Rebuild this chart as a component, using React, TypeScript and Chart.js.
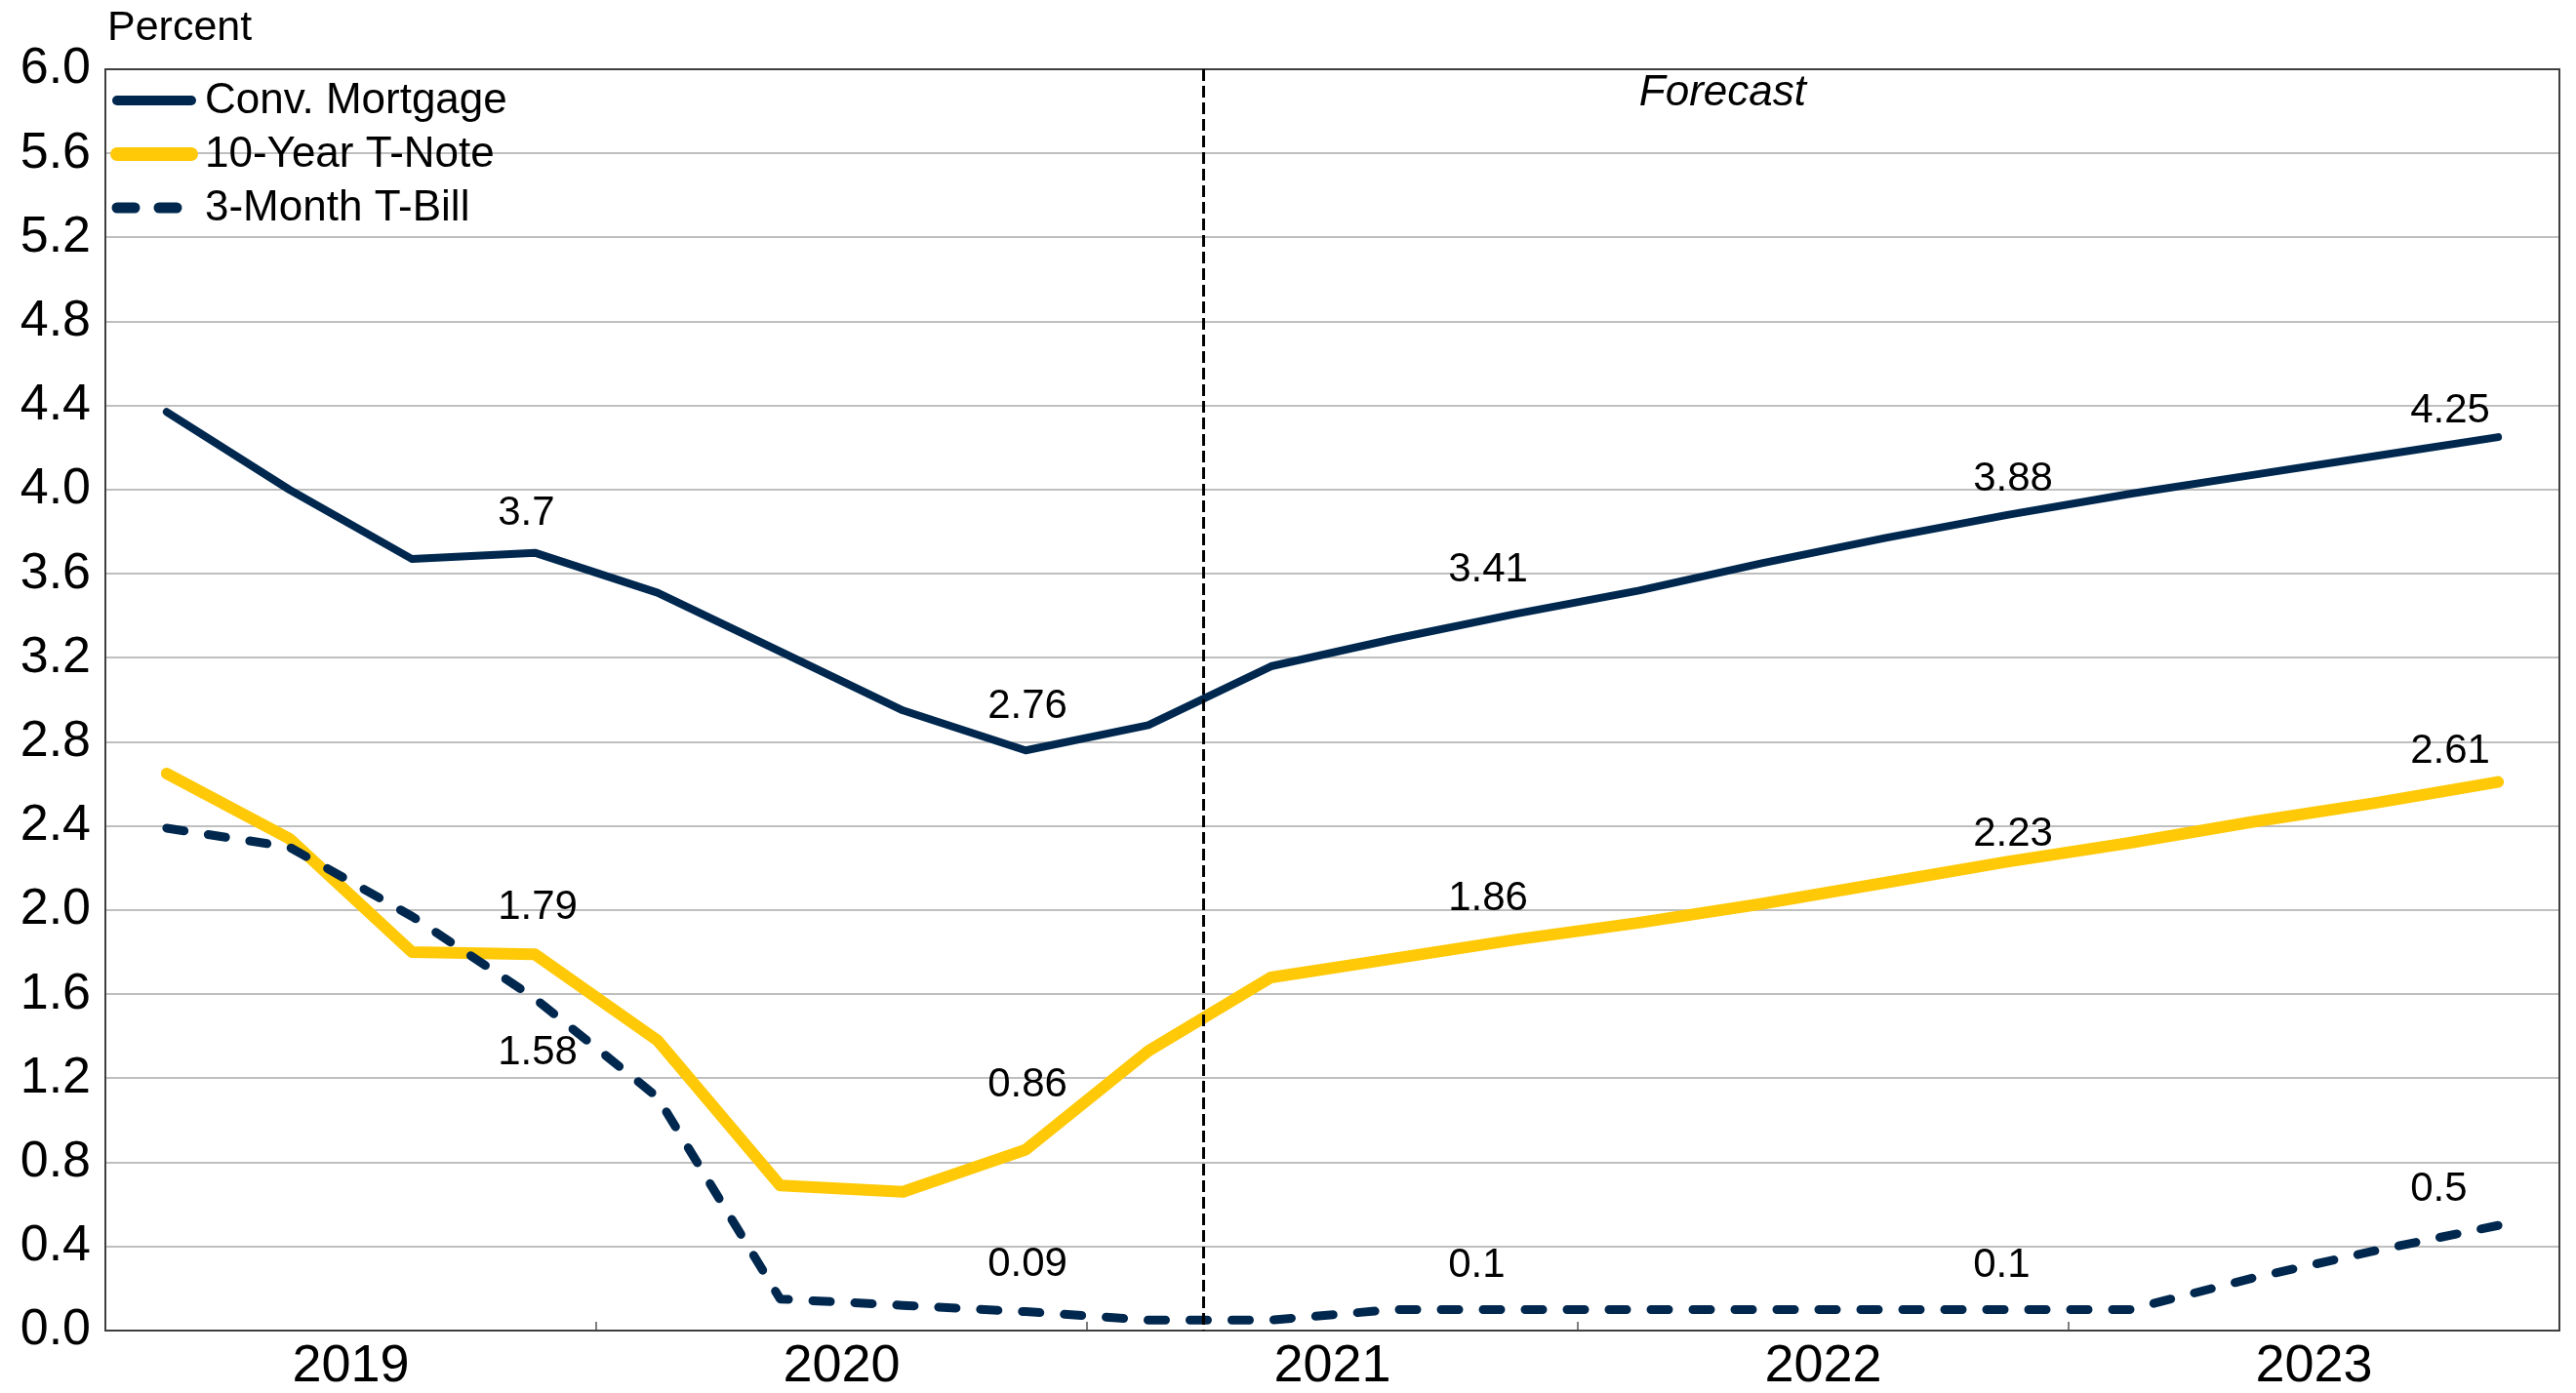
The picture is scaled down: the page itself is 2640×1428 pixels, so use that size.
import React, { useEffect, useRef } from 'react';
import { Chart, registerables } from 'chart.js';

Chart.register(...registerables);

// ---------- data ----------
const QUARTERS = [
  '2019Q1', '2019Q2', '2019Q3', '2019Q4',
  '2020Q1', '2020Q2', '2020Q3', '2020Q4',
  '2021Q1', '2021Q2', '2021Q3', '2021Q4',
  '2022Q1', '2022Q2', '2022Q3', '2022Q4',
  '2023Q1', '2023Q2', '2023Q3', '2023Q4',
];
const YEARS = ['2019', '2020', '2021', '2022', '2023'];

const CONV_MORTGAGE = [4.37, 4.0, 3.67, 3.7, 3.51, 3.23, 2.95, 2.76, 2.88, 3.16, 3.29, 3.41, 3.52, 3.65, 3.77, 3.88, 3.98, 4.07, 4.16, 4.25];
const TEN_YEAR_NOTE = [2.65, 2.34, 1.8, 1.79, 1.38, 0.69, 0.66, 0.86, 1.33, 1.68, 1.77, 1.86, 1.94, 2.03, 2.13, 2.23, 2.32, 2.42, 2.51, 2.61];
const THREE_MONTH_BILL = [2.39, 2.3, 1.97, 1.58, 1.11, 0.15, 0.12, 0.09, 0.05, 0.05, 0.1, 0.1, 0.1, 0.1, 0.1, 0.1, 0.1, 0.25, 0.38, 0.5];

const SERIES_NAMES = ['Conv. Mortgage', '10-Year T-Note', '3-Month T-Bill'];
const LABELLED_QUARTERS = [3, 7, 11, 15, 19]; // Q4 of each year
const FORECAST_START = 8.95; // quarter units from the start of 2019
const FORECAST_TEXT_AT = 13.18; // quarter units
const Y_MIN = 0;
const Y_MAX = 6;
const Y_STEP = 0.4;

// ---------- styles ----------
const NAVY = '#00284F';
const GOLD = '#FFC907';
const FONT = '"Liberation Sans", Arial, sans-serif';
const LABEL_DX = [-38, -39, -70, -35, -90];
const LABEL_DY = [
  [40, 45, 45, 36, 27],
  [48, 66, 42, 28, 31],
  [-56, 48, 45, 45, 37],
];

const toPoints = (vals: number[]) => vals.map((v, i) => ({ x: i + 0.5, y: v }));

const decorPlugin = {
  id: 'decor',
  beforeDatasetsDraw(chart: any) {
    const { ctx, chartArea: a, scales } = chart;
    const x = scales.x;
    ctx.save();
    ctx.strokeStyle = '#7F7F7F';
    ctx.lineWidth = 2;
    for (let k = 1; k < YEARS.length; k++) {
      const px = Math.round(x.getPixelForValue(k * 4));
      ctx.beginPath();
      ctx.moveTo(px, a.bottom);
      ctx.lineTo(px, a.bottom - 9);
      ctx.stroke();
    }
    ctx.strokeStyle = '#3F3F3F';
    ctx.lineWidth = 2;
    ctx.strokeRect(a.left, a.top, a.right - a.left, a.bottom - a.top);
    ctx.restore();
  },
  afterDatasetsDraw(chart: any) {
    const { ctx, chartArea: a, scales } = chart;
    const x = scales.x;
    ctx.save();

    // forecast divider
    const fx = Math.round(x.getPixelForValue(FORECAST_START)) + 0.5;
    ctx.strokeStyle = '#000';
    ctx.lineWidth = 3;
    ctx.setLineDash([12, 5]);
    ctx.beginPath();
    ctx.moveTo(fx, a.top);
    ctx.lineTo(fx, a.bottom);
    ctx.stroke();
    ctx.setLineDash([]);

    // Forecast text
    ctx.fillStyle = '#000';
    ctx.font = `italic 44px ${FONT}`;
    ctx.textAlign = 'center';
    ctx.textBaseline = 'middle';
    ctx.fillText('Forecast', x.getPixelForValue(FORECAST_TEXT_AT), a.top + 25);

    // data labels
    ctx.font = `42px ${FONT}`;
    ctx.textAlign = 'left';
    ctx.textBaseline = 'middle';
    chart.data.datasets.forEach((ds: any, di: number) => {
      const meta = chart.getDatasetMeta(di);
      LABELLED_QUARTERS.forEach((qi, k) => {
        const el = meta.data[qi];
        const v = ds.data[qi].y;
        ctx.fillText(String(v), el.x + LABEL_DX[k], el.y - LABEL_DY[di][k]);
      });
    });

    // legend
    const rows = [103, 158, 213];
    chart.data.datasets.forEach((ds: any, di: number) => {
      const y = rows[di];
      ctx.strokeStyle = ds.borderColor;
      ctx.lineWidth = ds.borderWidth + 2;
      ctx.lineCap = 'round';
      ctx.setLineDash(ds.borderDash || []);
      ctx.beginPath();
      ctx.moveTo(a.left + 12, y);
      ctx.lineTo(a.left + (ds.borderDash ? 82 : 88), y);
      ctx.stroke();
      ctx.setLineDash([]);
      ctx.fillStyle = '#000';
      ctx.font = `44px ${FONT}`;
      ctx.textAlign = 'left';
      ctx.textBaseline = 'middle';
      ctx.fillText(ds.label, a.left + 102, y + 1);
    });

    // axis title
    ctx.font = `43px ${FONT}`;
    ctx.textBaseline = 'alphabetic';
    ctx.textAlign = 'left';
    ctx.fillText('Percent', a.left + 2, 41);

    ctx.restore();
  },
};

export default function App() {
  const ref = useRef<HTMLCanvasElement | null>(null);

  useEffect(() => {
    if (!ref.current) return;
    const chart = new Chart(ref.current, {
      type: 'line',
      data: {
        labels: QUARTERS,
        datasets: [
          {
            label: SERIES_NAMES[0],
            data: toPoints(CONV_MORTGAGE),
            borderColor: NAVY,
            borderWidth: 8,
            pointRadius: 0,
            borderCapStyle: 'round',
            borderJoinStyle: 'round',
            order: 3,
          },
          {
            label: SERIES_NAMES[1],
            data: toPoints(TEN_YEAR_NOTE),
            borderColor: GOLD,
            borderWidth: 12,
            pointRadius: 0,
            borderCapStyle: 'round',
            borderJoinStyle: 'round',
            order: 2,
          },
          {
            label: SERIES_NAMES[2],
            data: toPoints(THREE_MONTH_BILL),
            borderColor: NAVY,
            borderWidth: 9,
            borderDash: [18, 25],
            pointRadius: 0,
            borderCapStyle: 'round',
            borderJoinStyle: 'round',
            order: 1,
          },
        ],
      } as any,
      options: {
        animation: false,
        responsive: true,
        maintainAspectRatio: false,
        devicePixelRatio: 1,
        layout: { padding: { left: 0, top: 71, right: 17, bottom: 0 } },
        plugins: { legend: { display: false }, tooltip: { enabled: false } },
        scales: {
          x: {
            type: 'linear',
            min: 0,
            max: QUARTERS.length,
            grid: { display: false, drawTicks: false },
            border: { display: false },
            afterBuildTicks: (axis: any) => {
              axis.ticks = YEARS.map((_, i) => ({ value: i * 4 + 2 }));
            },
            afterFit: (axis: any) => {
              axis.height = 64;
            },
            ticks: {
              autoSkip: false,
              maxRotation: 0,
              padding: 5,
              color: '#000',
              font: { family: FONT, size: 54 },
              callback: (_v: any, i: number) => YEARS[i],
            },
          },
          y: {
            type: 'linear',
            min: Y_MIN,
            max: Y_MAX,
            grid: { color: '#BFBFBF', lineWidth: 2, drawTicks: false },
            border: { display: false },
            afterFit: (axis: any) => {
              axis.width = 108;
            },
            ticks: {
              stepSize: Y_STEP,
              padding: 15,
              color: '#000',
              font: { family: FONT, size: 52 },
              callback: (v: any) => Number(v).toFixed(1),
            },
          },
        },
      } as any,
      plugins: [decorPlugin],
    });
    return () => chart.destroy();
  }, []);

  return (
    <div style={{ position: 'fixed', left: 0, top: 0, width: 2640, height: 1428, background: '#fff' }}>
      <canvas ref={ref} />
    </div>
  );
}
